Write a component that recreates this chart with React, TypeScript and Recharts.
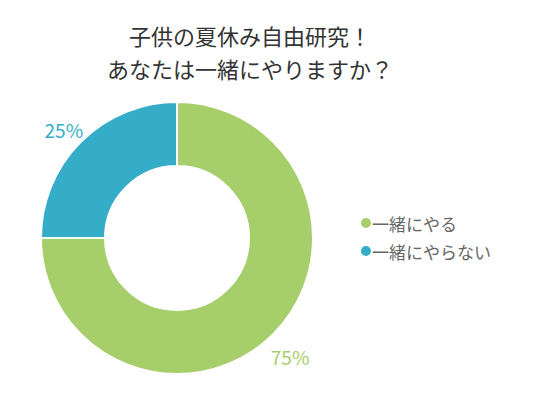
import { Legend, Pie, PieChart, Cell } from "recharts";

const categories = ["一緒にやる", "一緒にやらない"];
const values = [75, 25];
const colors = ["#a6ce6a", "#35adc8"]; // green / teal

const titleLines = ["子供の夏休み自由研究！", "あなたは一緒にやりますか？"];

const data = categories.map((name, i) => ({ name, value: values[i] }));
const FONT = '"Noto Sans CJK JP", "Noto Sans", sans-serif';

const RADIAN = Math.PI / 180;

function renderLabel(props: any) {
  const { cx, cy, midAngle, outerRadius, index, percent } = props;
  const r = outerRadius + 24;
  const x = cx + r * Math.cos(-midAngle * RADIAN);
  const y = cy + r * Math.sin(-midAngle * RADIAN) + 5;
  return (
    <text
      x={x}
      y={y}
      fill={colors[index]}
      textAnchor="middle"
      dominantBaseline="central"
      fontSize={19}
      fontFamily={FONT}
    >
      {`${Math.round(percent * 100)}%`}
    </text>
  );
}

function LegendContent() {
  return (
    <div style={{ fontFamily: FONT, fontSize: 17, color: "#666" }}>
      {categories.map((c, i) => (
        <div key={c} style={{ display: "flex", alignItems: "center", height: 28 }}>
          <span
            style={{
              width: 10,
              height: 10,
              borderRadius: 5,
              background: colors[i],
              marginRight: 1,
            }}
          />
          {c}
        </div>
      ))}
    </div>
  );
}

export default function App() {
  return (
    <div style={{ position: "absolute", left: 0, top: 0, width: 540, height: 400, background: "#fff" }}>
      <PieChart width={540} height={400} margin={{ top: 0, right: 0, bottom: 0, left: 0 }}>
        <text x={250} y={35} textAnchor="middle" dominantBaseline="central" fontSize={22} fontFamily={FONT} fill="#333">
          {titleLines[0]}
        </text>
        <text x={250} y={68} textAnchor="middle" dominantBaseline="central" fontSize={22} fontFamily={FONT} fill="#333">
          {titleLines[1]}
        </text>
        <Pie
          data={data}
          dataKey="value"
          nameKey="name"
          cx={177}
          cy={238}
          innerRadius={72}
          outerRadius={136}
          startAngle={90}
          endAngle={-270}
          stroke="#fff"
          strokeWidth={2}
          label={renderLabel}
          labelLine={false}
          isAnimationActive={false}
        >
          {data.map((_, i) => (
            <Cell key={`cell-${i}`} fill={colors[i]} />
          ))}
        </Pie>
        <Legend
          content={<LegendContent />}
          wrapperStyle={{ left: 361, top: 209, width: 170 }}
        />
      </PieChart>
    </div>
  );
}
